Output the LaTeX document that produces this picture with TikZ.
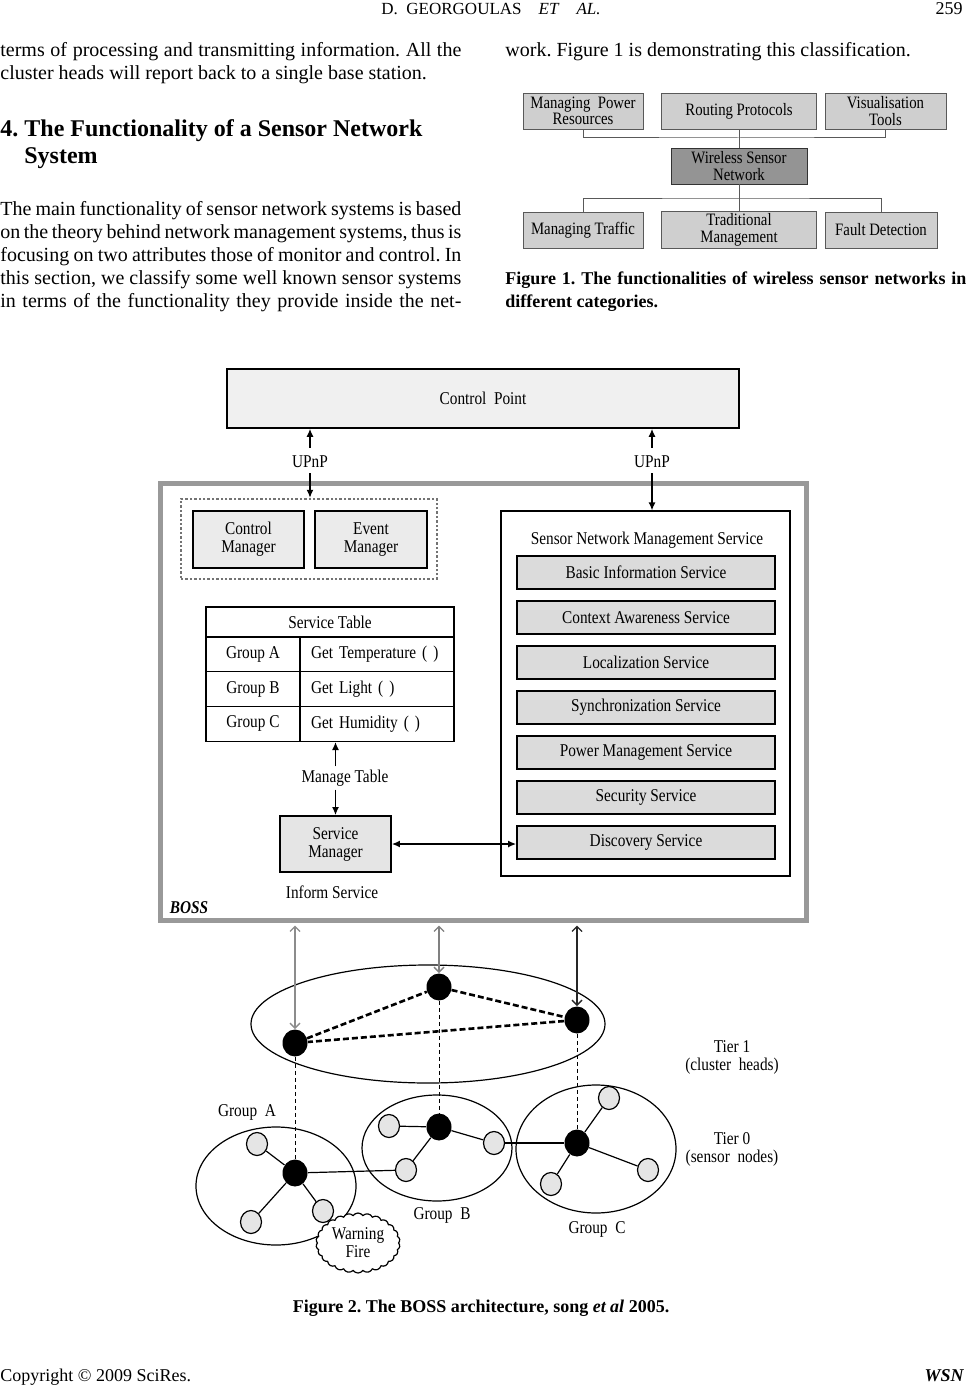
\documentclass[tikz,border=0pt]{standalone}
\usepackage{fontspec}
\setmainfont{Liberation Serif}
\newfontfamily\figfont[FakeStretch=0.85]{Liberation Serif}
\usetikzlibrary{arrows.meta,shapes.geometric,shapes.symbols}
\newlength\colw
\setlength\colw{230.5pt}
\newcommand\jline[1]{\hbox to\colw{#1}}
\frenchspacing

\begin{document}
\begin{tikzpicture}[x=0.5pt,y=-0.5pt]
        \tikzstyle{bodyline}=[anchor=base west,inner sep=0pt,font=\fontsize{10}{11.5}\selectfont]
        \tikzstyle{capline}=[anchor=base west,inner sep=0pt,font=\fontsize{9}{11.5}\selectfont\bfseries]
        \tikzstyle{catbox}=[draw=black!65,fill=black!19,minimum height=18pt,inner sep=1pt,align=center,font=\figfont\fontsize{8.7}{8.3}\selectfont]
        \tikzstyle{hubbox}=[catbox,fill=black!42,draw=black!80]
        \tikzstyle{treeline}=[draw=black!65,line width=0.5pt]
        \tikzstyle{fig}=[align=center,font=\figfont\fontsize{9}{9}\selectfont]
        \tikzstyle{mgrbox}=[fig,draw=black,line width=0.9pt,fill=black!8,minimum width=55.5pt,minimum height=28.5pt]
        \tikzstyle{svcbox}=[fig,draw=black,line width=0.9pt,fill=black!14,minimum width=129pt,minimum height=16.5pt]
        \tikzstyle{tcell}=[fig,draw=black,line width=0.7pt,minimum height=17.4pt]
        \tikzstyle{arr}=[-{Latex[length=4pt,width=3.5pt]},line width=0.7pt]
        \tikzstyle{arrboth}=[{Latex[length=4pt,width=3.5pt]}-{Latex[length=4pt,width=3.5pt]},line width=0.7pt]
        \tikzstyle{netarr}=[{Straight Barb[length=2.5pt,width=5pt]}-{Straight Barb[length=2.5pt,width=5pt]},line width=0.7pt,shorten <=1.5pt]
        \tikzstyle{chead}=[ellipse,fill=black,minimum width=12.5pt,minimum height=13.5pt,inner sep=0pt]
        \tikzstyle{sensor}=[ellipse,draw=black,fill=black!10,minimum width=10.5pt,minimum height=11.5pt,inner sep=0pt,line width=0.6pt]
        \tikzstyle{link}=[line width=0.6pt]

        \fill[white] (0,0) rectangle (966,1386);
        \useasboundingbox (0,0) rectangle (966,1386);

        % page head
        \node[anchor=base,inner sep=0pt,font=\fontsize{8.5}{10}\selectfont] (hdr) at (491,15) {D.~~GEORGOULAS\quad\textit{ET}\quad\textit{AL.}};
        \node[anchor=base east,inner sep=0pt,font=\fontsize{9}{10}\selectfont] (pgno) at (963,15) {259};

        % left column
        \node[bodyline] (pa1) at (0,57) {\jline{terms of processing and transmitting information. All the}};
        \node[bodyline] (pa2) at (0,80) {cluster heads will report back to a single base station.};
        \node[anchor=base west,inner sep=0pt,font=\fontsize{12}{13.5}\selectfont\bfseries] (sec) at (0,136) {4. The Functionality of a Sensor Network};
        \node[anchor=base west,inner sep=0pt,font=\fontsize{12}{13.5}\selectfont\bfseries] (sec2) at (24,163) {System};
        \foreach \txt [count=\i] in {{The main functionality of sensor network systems is based},
                                     {on the theory behind network management systems, thus is},
                                     {focusing on two attributes those of monitor and control. In},
                                     {this section, we classify some well known sensor systems},
                                     {in terms of the functionality they provide inside the net-}}
            \node[bodyline] (pb\i) at (0,{192+23*\i}) {\jline{\txt}};

        % right column
        \node[bodyline] (pc1) at (505,57) {work. Figure 1 is demonstrating this classification.};

        % figure 1
        \node[catbox,minimum width=60pt] (mpr) at (583,111) {Managing~~Power\\Resources};
        \node[catbox,minimum width=77.5pt] (rp) at (739,111) {Routing Protocols};
        \node[catbox,minimum width=60.5pt] (vis) at (885.5,111) {Visualisation\\Tools};
        \node[hubbox,minimum width=68pt] (wsn) at (739,166) {Wireless Sensor\\Network};
        \node[catbox,minimum width=60pt] (mtr) at (583,230) {Managing Traffic};
        \node[catbox,minimum width=77.5pt] (tm) at (739,230) {Traditional\\Management};
        \node[catbox,minimum width=56pt] (fd) at (881,230) {Fault Detection};
        \coordinate (bus1) at (739,138);
        \coordinate (bus2) at (739,198);
        \draw[treeline] (mpr.south) |- (bus1) -| (vis.south);
        \draw[treeline] (rp.south) -- (wsn.north);
        \draw[treeline] (mtr.north) |- (bus2) -| (fd.north);
        \draw[treeline] (wsn.south) -- (tm.north);

        \node[capline] (capa) at (505,284) {\jline{Figure 1. The functionalities of wireless sensor networks in}};
        \node[capline] (capb) at (505,307) {different categories.};

        % figure 2
        \node[fig,draw=black,line width=0.8pt,fill=black!6,minimum width=256pt,minimum height=29.5pt] (cp) at (483,398.5) {Control~~Point};
        \node[draw=black!40,line width=2.5pt,minimum width=323pt,minimum height=218.5pt] (boss) at (483,701.5) {};
        \node[draw=black!55,line width=1.2pt,densely dotted,minimum width=128pt,minimum height=40pt] (mgrs) at (309,539) {};
        \node[mgrbox] (cmgr) at (248.5,539.5) {Control\\Manager};
        \node[mgrbox,minimum width=56pt] (emgr) at (371,539.5) {Event\\Manager};

        \node[draw=black,line width=0.6pt,minimum width=144.5pt,minimum height=182.5pt] (snms) at (645.5,693.5) {};

        \node[fig,inner sep=0pt] (upnpL) at (310,462) {UPnP};
        \node[fig,inner sep=0pt] (upnpR) at (652,462) {UPnP};
        \draw[arr,shorten <=4pt] (upnpL.north) -- (cp.south -| upnpL);
        \draw[arr,shorten <=2.5pt] (upnpL.south) -- (mgrs.north -| upnpL);
        \draw[arr,shorten <=4pt] (upnpR.north) -- (cp.south -| upnpR);
        \draw[arr,shorten <=2.5pt] (upnpR.south) -- (snms.north -| upnpR);

        % service table
        \node[tcell,minimum width=124pt,minimum height=15pt] (sthead) at (330,622) {Service Table};
        \foreach \g/\f [count=\i] in {A/Get Temperature ( ),B/Get Light ( ),C/Get Humidity ( )} {
            \node[tcell,minimum width=47pt] (grp\g) at (253,{619.5+34.8*\i}) {Group \g};
            \node[tcell,text width=66pt,inner xsep=5.5pt,align=left] (get\g) at (377,{619.5+34.8*\i}) {\f};
        }

        \node[fig,inner sep=0pt] (mtab) at (345,778) {Manage Table};
        \node[mgrbox,fill=black!10,minimum height=28pt] (smgr) at (335.5,844) {Service\\Manager};
        \draw[arr,shorten <=1.5pt] (mtab.north -| smgr) -- (grpC.south -| smgr);
        \draw[arr,shorten <=1.5pt] (mtab.south -| smgr) -- (smgr.north);
        \node[fig] (inform) at (332,892) {Inform Service};
        \node[font=\figfont\fontsize{9}{9}\selectfont\bfseries\itshape] (bosslbl) at (189,908) {BOSS};

        % management services
        \node[fig] (snmst) at (647,540) {Sensor Network Management Service};
        \foreach \s [count=\i] in {Basic Information Service,Context Awareness Service,Localization Service,
                                   Synchronization Service,Power Management Service,Security Service,Discovery Service}
            \node[svcbox] (svc\i) at (646,{527.5+45*\i}) {\s};
        \draw[arrboth] (smgr.east) -- (smgr.east -| svc7.west);

        % sensor network
        \draw[link] (428,1024) ellipse [x radius=177,y radius=59];
        \draw[link] (276,1186) ellipse [x radius=80,y radius=59];
        \draw[link] (437,1148) ellipse [x radius=75,y radius=53];
        \draw[link] (596,1149) ellipse [x radius=80,y radius=64];

        \node[chead] (chA) at (295,1043) {};
        \node[chead] (chB) at (439,987) {};
        \node[chead] (chC) at (577,1020) {};
        \node[chead] (gA) at (295,1173) {};
        \node[chead] (gB) at (439,1127) {};
        \node[chead] (gC) at (577,1143) {};

        \draw[netarr,draw=black!45] (boss.south -| chA) -- (chA.north);
        \draw[netarr,draw=black!50] (boss.south -| chB) -- (chB.north);
        \draw[netarr,draw=black!85] (boss.south -| chC) -- (chC.north);
        \draw[line width=1.3pt,dash pattern=on 3pt off 1.5pt] (chA) -- (chB) -- (chC) -- (chA);
        \foreach \u/\v in {chA/gA,chB/gB,chC/gC}
            \draw[line width=0.5pt,dash pattern=on 2pt off 1.5pt] (\u) -- (\v);

        \node[cloud,cloud puffs=26,cloud puff arc=110,aspect=1.4,draw,line width=0.6pt,fill=white,minimum width=42pt,minimum height=30pt,inner sep=0pt,fig] (fire) at (358,1243) {Warning\\Fire};

        \node[sensor] (a1) at (257,1144) {};
        \node[sensor] (a2) at (251,1222) {};
        \node[sensor] (a3) at (323,1211) {};
        \node[sensor] (b1) at (389,1126) {};
        \node[sensor] (b2) at (494,1143) {};
        \node[sensor] (b3) at (406,1170) {};
        \node[sensor] (c1) at (609,1098) {};
        \node[sensor] (c2) at (648,1170) {};
        \node[sensor] (c3) at (551,1184) {};
        \foreach \u/\v in {gA/a1,gA/a2,gA/a3,gA/b3,gB/b1,gB/b2,gB/b3,b2/gC,gC/c1,gC/c2,gC/c3}
            \draw[link] (\u) -- (\v);

        \node[fig] (grpAl) at (247,1112) {Group~~A};
        \node[fig] (grpBl) at (442,1215) {Group~~B};
        \node[fig] (grpCl) at (597,1229) {Group~~C};
        \node[fig] (tier1) at (732,1057) {Tier 1\\(cluster~~heads)};
        \node[fig] (tier0) at (732,1149) {Tier 0\\(sensor~~nodes)};

        % captions and foot
        \node[anchor=base,inner sep=0pt,font=\fontsize{9}{11}\selectfont\bfseries] (capc) at (481,1312) {Figure 2. The BOSS architecture, song \textit{et al} 2005.};
        \node[anchor=base west,inner sep=0pt,font=\fontsize{9}{11}\selectfont] (copy) at (0,1381) {Copyright © 2009 SciRes.};
        \node[anchor=base east,inner sep=0pt,font=\fontsize{9}{11}\selectfont\bfseries\itshape] (jrnl) at (964,1381) {WSN};
\end{tikzpicture}
\end{document}
